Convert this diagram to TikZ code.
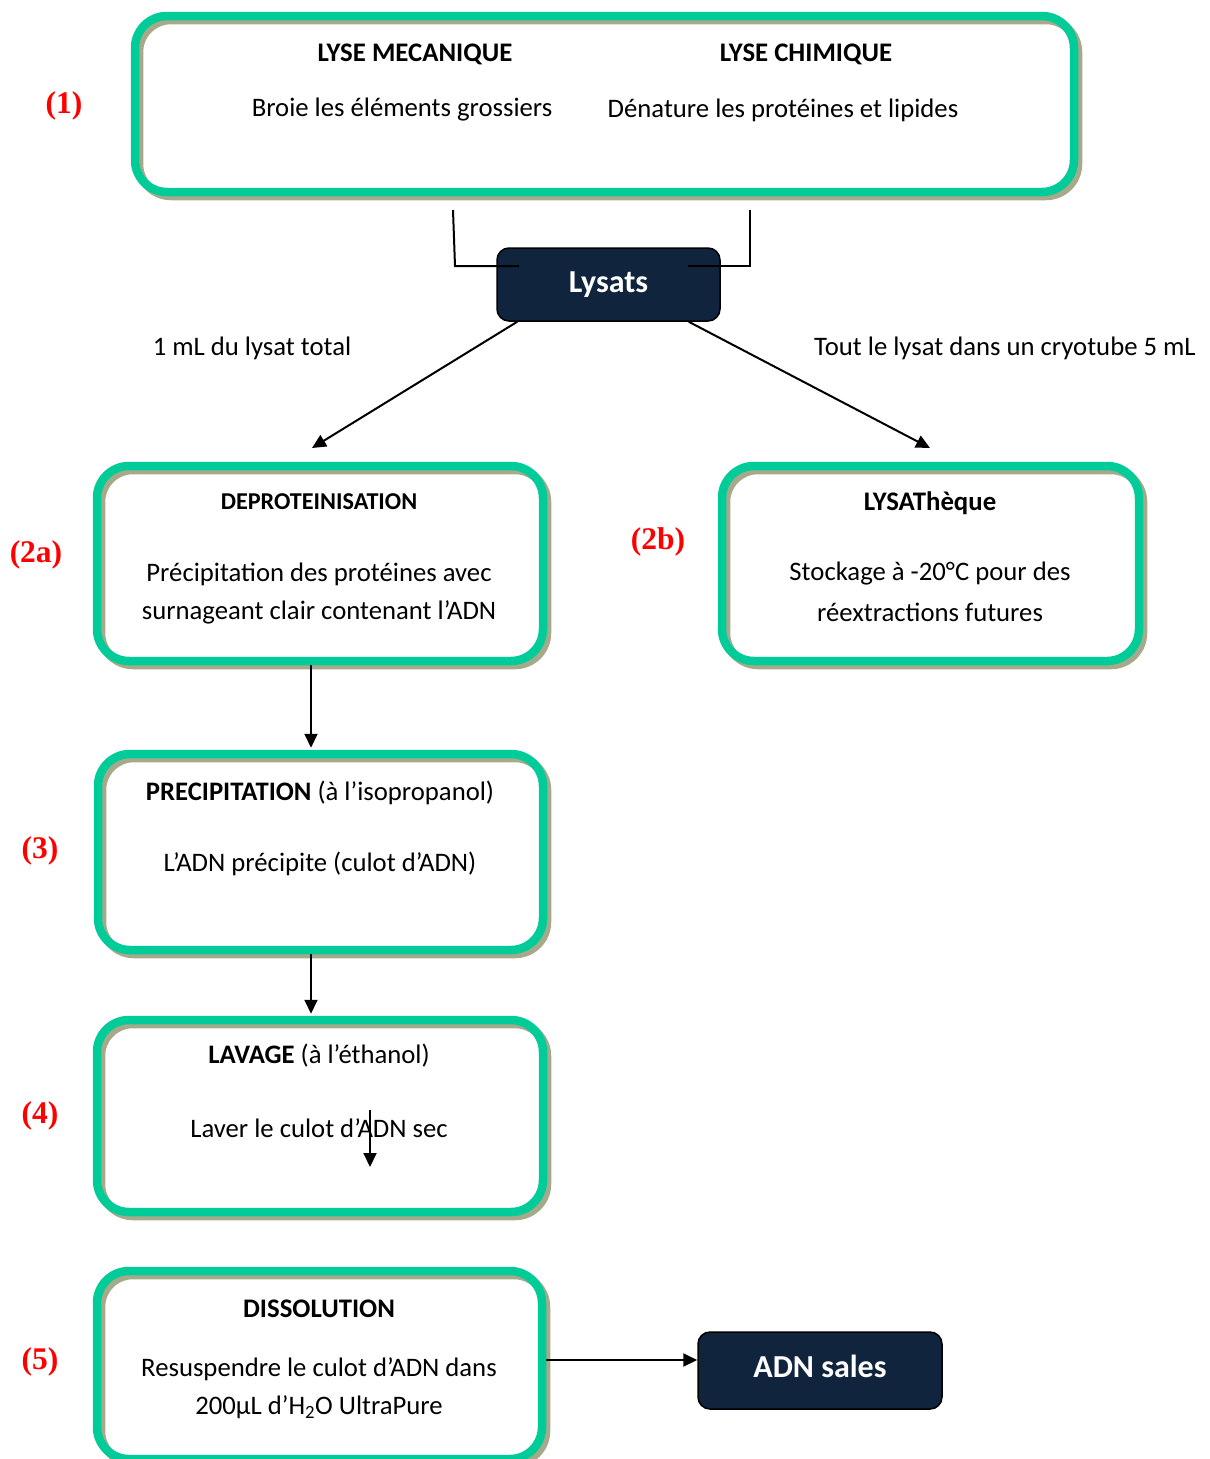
\documentclass[tikz,border=0pt]{standalone}
\usepackage{fontspec}
\setmainfont{Carlito}
\newfontfamily\tnr{Liberation Serif}
\usetikzlibrary{arrows.meta}
\definecolor{boxgreen}{RGB}{0,204,153}
\definecolor{shadowc}{RGB}{166,170,138}
\definecolor{navy}{RGB}{16,36,62}
\begin{document}
\begin{tikzpicture}[x=1pt,y=-1pt,
  greenbox/.style={rounded corners=32pt, draw=boxgreen, line width=8.5pt, inner sep=0pt,
    preaction={draw=shadowc, line width=8.5pt, transform canvas={shift={(4pt,-4pt)}}}},
  navybox/.style={rounded corners=12pt, draw=black, line width=1.5pt, fill=navy, inner sep=0pt,
    text=white, font=\bfseries\fontsize{32}{38}\selectfont},
  body/.style={inner sep=0pt, font=\fontsize{26.7}{32}\selectfont},
  title/.style={inner sep=0pt, font=\bfseries\fontsize{26.8}{32}\selectfont},
  smalltitle/.style={inner sep=0pt, font=\bfseries\fontsize{24.2}{29}\selectfont},
  lab/.style={inner sep=0pt, text=red, font=\tnr\bfseries\fontsize{31.5}{36}\selectfont},
  conn/.style={draw=black, line width=2pt},
  arr/.style={conn, -{Triangle[length=14pt,width=13pt]}}]
\useasboundingbox (0,0) rectangle (1210,1459);
\clip (0,0) rectangle (1210,1459);

% boxes
\node[greenbox, minimum width=939pt, minimum height=176pt] (box1) at (604.5,104) {};
\node[greenbox, minimum width=446pt, minimum height=195pt] (box2a) at (320,563.5) {};
\node[greenbox, minimum width=417pt, minimum height=195pt] (box2b) at (930.5,563.5) {};
\node[greenbox, minimum width=445pt, minimum height=196pt] (box3) at (320.5,852) {};
\node[greenbox, minimum width=446pt, minimum height=192pt] (box4) at (320,1116) {};
\node[greenbox, minimum width=445pt, minimum height=188pt] (box5) at (319.5,1365) {};
\node[navybox, minimum width=223pt, minimum height=73pt] (lys) at (608.5,284.5) {Lysats};
\node[navybox, minimum width=244pt, minimum height=77pt] (adn) at (820,1370.5) {};
\node[inner sep=0pt, text=white, font=\bfseries\fontsize{32}{38}\selectfont] (adnt) at (820,1366) {ADN sales};

% texts box1
\node[title] (t1a) at (415,54) {LYSE MECANIQUE};
\node[title] (t1b) at (806,54) {LYSE CHIMIQUE};
\node[body] (d1a) at (402,110) {Broie les éléments grossiers};
\node[body] (d1b) at (783,110) {Dénature les protéines et lipides};
% box2a
\node[smalltitle] (t2a) at (319,502) {DEPROTEINISATION};
\node[body] (d2a1) at (319,574) {Précipitation des protéines avec};
\node[body] (d2a2) at (319,612) {surnageant clair contenant l’ADN};
% box2b
\node[title] (t2b) at (930,503) {LYSAThèque};
\node[body] (d2b1) at (930,574) {Stockage à -20°C pour des};
\node[body] (d2b2) at (930,612) {réextractions futures};
% box3
\node[body] (t3) at (320,793) {\textbf{PRECIPITATION} (à l’isopropanol)};
\node[body] (d3) at (320,864) {L’ADN précipite (culot d’ADN)};
% box4
\node[body] (t4) at (319,1056) {\textbf{LAVAGE} (à l’éthanol)};
\node[body] (d4) at (319,1128) {Laver le culot d’ADN sec};
% box5
\node[title] (t5) at (319,1309) {DISSOLUTION};
\node[body] (d5a) at (319,1369) {Resuspendre le culot d’ADN dans};
\node[body] (d5b) at (319,1407) {200µL d’H\textsubscript{2}O UltraPure};

% edge labels
\node[body] (e1) at (252,348) {1 mL du lysat total};
\node[body] (e2) at (1005,348) {Tout le lysat dans un cryotube 5 mL};

% step labels
\node[lab] (n1) at (64,106) {(1)};
\node[lab] (n2a) at (36,555) {(2a)};
\node[lab] (n2b) at (658,542) {(2b)};
\node[lab] (n3) at (40,851) {(3)};
\node[lab] (n4) at (40,1116) {(4)};
\node[lab] (n5) at (40,1362) {(5)};

% connectors
\coordinate (cl) at (453,210);
\coordinate (cr) at (750,210);
\coordinate (ll) at (519,266);
\coordinate (lr) at (688,266);
\draw[conn] (cl) -- (455,266) -- (ll);
\draw[conn] (cr) |- (lr);
\coordinate (a2a) at (312,448);
\coordinate (a2b) at (930,448);
\draw[arr] ([xshift=21pt]lys.south west) -- (a2a);
\draw[arr] ([xshift=-32pt]lys.south east) -- (a2b);
\draw[arr] ([xshift=-9pt]box2a.south) -- ([xshift=-9.5pt,yshift=2pt]box3.north);
\draw[arr] ([xshift=-9.5pt]box3.south) -- ([xshift=-9pt,yshift=2pt]box4.north);
\coordinate (s1) at (370,1110);
\coordinate (s2) at (370,1167);
\draw[arr] (s1) -- (s2);
\draw[arr] ([yshift=5pt]box5.east) -- ([yshift=10.5pt]adn.west);
\end{tikzpicture}
\end{document}
